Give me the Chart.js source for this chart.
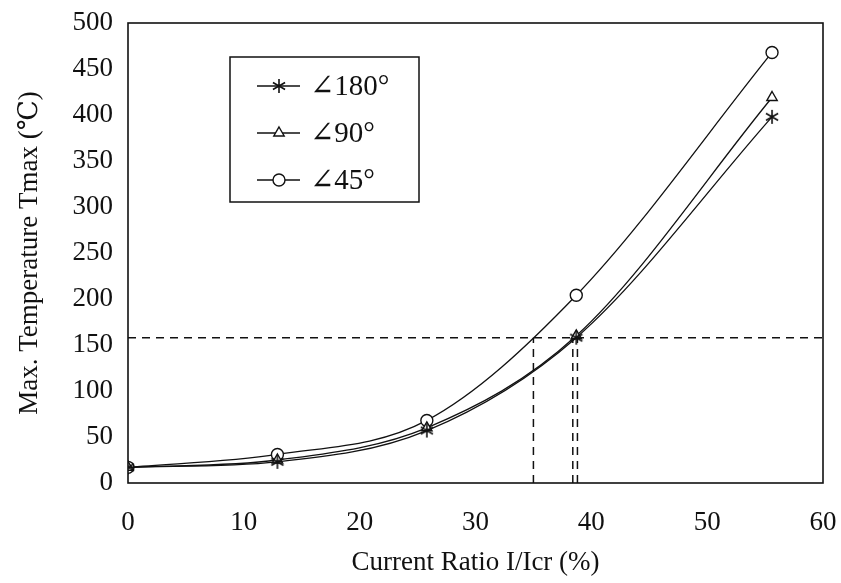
<!DOCTYPE html>
<html>
<head>
<meta charset="utf-8">
<script src="https://cdn.jsdelivr.net/npm/chart.js@4"></script>
<style>
  html, body { margin: 0; padding: 0; background: #fff; }
  #wrap { width: 841px; height: 583px; }
</style>
</head>
<body>
<div id="wrap"><canvas id="tempChart" width="841" height="583"></canvas></div>
<script>
// values
const currentRatio = [0, 12.9, 25.8, 38.7, 55.6];
const temp180 = [17, 23, 57, 158, 398];
const temp90 = [17, 25, 60, 160, 419];
const temp45 = [17, 31, 68, 204, 468];
const seriesLabels = ['\u2220180\u00B0', '\u222090\u00B0', '\u222045\u00B0'];
const limitTemp = 158;
const limitRatios = [35.0, 38.4, 38.8];
const xTicks = [0, 10, 20, 30, 40, 50, 60];
const yTicks = [0, 50, 100, 150, 200, 250, 300, 350, 400, 450, 500];

const serif = '"Liberation Serif", "DejaVu Serif", serif';

// six-armed asterisk marker, as in the printed figure
function makeAsterisk() {
    const c = document.createElement('canvas');
    c.width = 16;
    c.height = 16;
    const g = c.getContext('2d');
    g.strokeStyle = '#111';
    g.lineWidth = 1.6;
    g.beginPath();
    for (let k = 0; k < 3; k++) {
        const a = Math.PI / 2 + k * Math.PI / 3;
        g.moveTo(8 + 7 * Math.cos(a), 8 + 7 * Math.sin(a));
        g.lineTo(8 - 7 * Math.cos(a), 8 - 7 * Math.sin(a));
    }
    g.stroke();
    return c;
}
const asterisk = makeAsterisk();

function toPoints(xs, ys) {
    return xs.map((x, i) => ({ x: x, y: ys[i] }));
}

function curve(label, ys, style) {
    return {
        label: label,
        data: toPoints(currentRatio, ys),
        borderColor: '#111',
        borderWidth: 1.3,
        backgroundColor: '#fff',
        pointStyle: style,
        pointRadius: 6,
        pointBorderWidth: 1.4,
        pointBorderColor: '#111',
        pointBackgroundColor: '#fff',
        cubicInterpolationMode: 'monotone',
        fill: false
    };
}

function dashed(points) {
    return {
        label: '_limit',
        data: points,
        borderColor: '#111',
        borderWidth: 1.5,
        borderDash: [8, 6],
        pointRadius: 0,
        fill: false,
        tension: 0
    };
}

const markerStyles = [asterisk, 'triangle', 'circle'];

const datasets = [
    dashed([{ x: 0, y: limitTemp }, { x: 60, y: limitTemp }]),
    ...limitRatios.map(r => dashed([{ x: r, y: 0 }, { x: r, y: limitTemp }])),
    curve(seriesLabels[0], temp180, markerStyles[0]),
    curve(seriesLabels[1], temp90, markerStyles[1]),
    curve(seriesLabels[2], temp45, markerStyles[2])
];

// boxed legend like the original figure
const boxLegend = {
    id: 'boxLegend',
    afterDraw(chart) {
        const ctx = chart.ctx;
        const left = 230, top = 57, w = 189, h = 145;
        ctx.save();
        ctx.fillStyle = '#fff';
        ctx.fillRect(left, top, w, h);
        ctx.strokeStyle = '#111';
        ctx.lineWidth = 1.5;
        ctx.strokeRect(left, top, w, h);
        const rows = [86, 133, 180];
        rows.forEach((y, i) => {
            ctx.strokeStyle = '#111';
            ctx.lineWidth = 1.3;
            ctx.beginPath();
            ctx.moveTo(257, y);
            ctx.lineTo(300, y);
            ctx.stroke();
            ctx.fillStyle = '#fff';
            ctx.lineWidth = 1.4;
            Chart.helpers.drawPoint(ctx, { pointStyle: markerStyles[i], radius: 6, borderWidth: 1.4 }, 279, y);
            ctx.fillStyle = '#111';
            ctx.font = '29px ' + serif;
            ctx.textBaseline = 'middle';
            ctx.textAlign = 'left';
            ctx.fillText(seriesLabels[i], 310, y + 1);
        });
        ctx.restore();
    }
};

// full frame around plot area
const frame = {
    id: 'frame',
    beforeDatasetsDraw(chart) {
        const a = chart.chartArea;
        const ctx = chart.ctx;
        ctx.save();
        ctx.strokeStyle = '#111';
        ctx.lineWidth = 1.6;
        ctx.strokeRect(a.left, a.top, a.right - a.left, a.bottom - a.top);
        ctx.restore();
    }
};

new Chart(document.getElementById('tempChart').getContext('2d'), {
    type: 'line',
    data: { datasets: datasets },
    options: {
        responsive: false,
        animation: false,
        layout: { padding: { top: 23, right: 18, left: 0, bottom: 0 } },
        plugins: {
            legend: { display: false },
            tooltip: { enabled: false }
        },
        scales: {
            x: {
                type: 'linear',
                min: 0,
                max: 60,
                afterBuildTicks: s => { s.ticks = xTicks.map(v => ({ value: v })); },
                afterFit: s => { s.height = 100; s.paddingLeft = 0; s.paddingRight = 0; },
                grid: { display: false, drawTicks: false },
                border: { display: false },
                ticks: {
                    color: '#111',
                    padding: 24,
                    font: { family: serif, size: 27 }
                },
                title: {
                    display: true,
                    text: 'Current Ratio I/Icr (%)',
                    color: '#111',
                    padding: { top: 2 },
                    font: { family: serif, size: 27 }
                }
            },
            y: {
                min: 0,
                max: 500,
                afterBuildTicks: s => { s.ticks = yTicks.map(v => ({ value: v })); },
                afterFit: s => { s.width = 128; s.paddingTop = 0; s.paddingBottom = 0; },
                grid: { display: false, drawTicks: false },
                border: { display: false },
                ticks: {
                    color: '#111',
                    padding: 15,
                    font: { family: serif, size: 27 }
                },
                title: {
                    display: true,
                    text: 'Max. Temperature Tmax (\u2103)',
                    color: '#111',
                    padding: { top: 14, bottom: 0 },
                    font: { family: serif, size: 27 }
                }
            }
        }
    },
    plugins: [frame, boxLegend]
});
</script>
</body>
</html>
